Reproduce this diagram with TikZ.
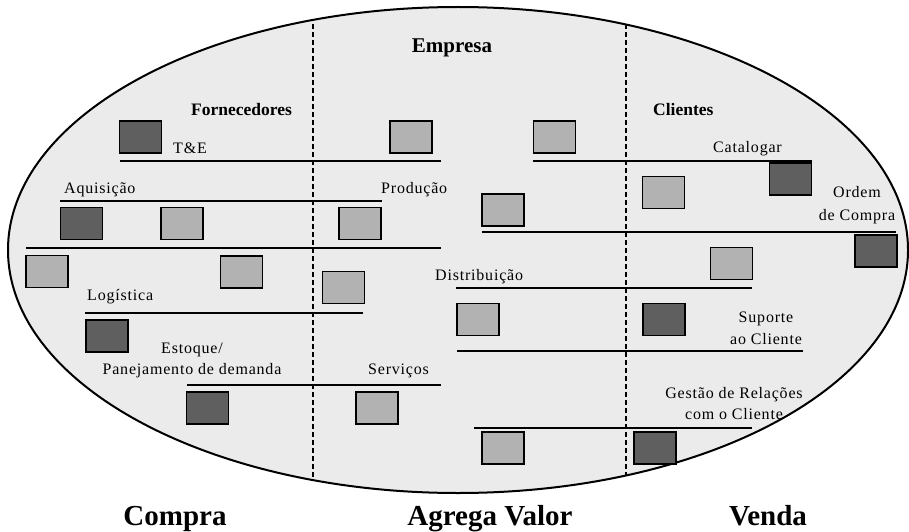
\documentclass[tikz,border=0pt]{standalone}
\usepackage{fontspec}
\setmainfont{Liberation Serif}
\newfontfamily\spacedfont[LetterSpace=5]{Liberation Serif}
\definecolor{fieldgray}{HTML}{EBEBEB}
\definecolor{boxdark}{HTML}{5F5F5F}
\definecolor{boxlight}{HTML}{B2B2B2}
\begin{document}
\begin{tikzpicture}[x=1pt,y=-1pt,
  darkbox/.style={draw=black, line width=1.2pt, fill=boxdark, minimum width=42pt,
    minimum height=32pt, inner sep=0pt, outer sep=0pt},
  lightbox/.style={darkbox, fill=boxlight},
  rule/.style={line width=1.1pt},
  divider/.style={line width=1.2pt, dash pattern=on 5pt off 3pt},
  tag/.style={font=\spacedfont\fontsize{16}{18}\selectfont, inner sep=0pt},
  head/.style={font=\bfseries\fontsize{17.5}{20}\selectfont, inner sep=0pt},
  zone/.style={font=\bfseries\fontsize{29}{32}\selectfont, inner sep=0pt}]

\useasboundingbox (0,0) rectangle (909,532);

% company field
\fill[fieldgray] (458,250) ellipse [x radius=450pt, y radius=243pt];
\begin{scope}
  \clip (458,250) ellipse [x radius=450pt, y radius=243pt];
  \draw[divider] (313,0) -- (313,532);
  \draw[divider] (626,0) -- (626,532);
\end{scope}
\draw[line width=2pt] (458,250) ellipse [x radius=450pt, y radius=243pt];

% process rules
\draw[rule] (120,161) -- (441,161);
\draw[rule] (533,161) -- (812,161);
\draw[rule] (60,201) -- (382,201);
\draw[rule] (26,248) -- (441,248);
\draw[rule] (482,232) -- (896,232);
\draw[rule] (85,313) -- (363,313);
\draw[rule] (456,288) -- (752,288);
\draw[rule] (457,351) -- (803,351);
\draw[rule] (187,385) -- (441,385);
\draw[rule] (474,428) -- (752,428);

% dark boxes
\node[darkbox] (d1) at (140.5,137) {};
\node[darkbox] (d2) at (81.5,223.5) {};
\node[darkbox] (d3) at (107,336) {};
\node[darkbox] (d4) at (207.5,408) {};
\node[darkbox] (d5) at (790.5,179) {};
\node[darkbox] (d6) at (876,251) {};
\node[darkbox] (d7) at (664,319.5) {};
\node[darkbox] (d8) at (655,448) {};

% light boxes
\node[lightbox] (l1) at (411,137) {};
\node[lightbox] (l2) at (182,223.5) {};
\node[lightbox] (l3) at (360,223.5) {};
\node[lightbox] (l4) at (47,271.5) {};
\node[lightbox] (l5) at (241.5,272) {};
\node[lightbox] (l6) at (343.5,287.5) {};
\node[lightbox] (l7) at (554.5,137) {};
\node[lightbox] (l8) at (503,210) {};
\node[lightbox] (l9) at (663.5,192.5) {};
\node[lightbox] (l10) at (731.5,263.5) {};
\node[lightbox] (l11) at (478,319.5) {};
\node[lightbox] (l12) at (377,408) {};
\node[lightbox] (l13) at (503,448) {};

% headings
\node[font=\bfseries\fontsize{21}{24}\selectfont, inner sep=0pt, anchor=base] (empresa) at (452,53) {Empresa};
\node[head, anchor=base west] (fornec) at (191,115) {Fornecedores};
\node[head, anchor=base west] (clientes) at (653,115) {Clientes};

% process labels
\node[tag, anchor=base west] (te) at (173,153) {T\&E};
\node[tag, anchor=base west] (aquis) at (64,193) {Aquisição};
\node[tag, anchor=base west] (prod) at (381,193) {Produção};
\node[tag, anchor=base west] (catal) at (713,152) {Catalogar};
\node[tag, anchor=base] (ordem1) at (857,197) {Ordem};
\node[tag, anchor=base] (ordem2) at (857,220) {de Compra};
\node[tag, anchor=base west] (distr) at (435,280) {Distribuição};
\node[tag, anchor=base west] (logist) at (87,300) {Logística};
\node[tag, anchor=base] (estoq1) at (192,353) {Estoque/};
\node[tag, anchor=base] (estoq2) at (192,374) {Panejamento de demanda};
\node[tag, anchor=base west] (serv) at (368,374) {Serviços};
\node[tag, anchor=base] (sup1) at (766,322) {Suporte};
\node[tag, anchor=base] (sup2) at (766,344) {ao Cliente};
\node[tag, anchor=base] (crm1) at (734,398) {Gestão de Relações};
\node[tag, anchor=base] (crm2) at (734,419) {com o Cliente};

% stage captions
\node[zone, anchor=base] (compra) at (175,525) {Compra};
\node[zone, anchor=base] (agrega) at (490,525) {Agrega Valor};
\node[zone, anchor=base] (venda) at (768,525) {Venda};
\end{tikzpicture}
\end{document}
